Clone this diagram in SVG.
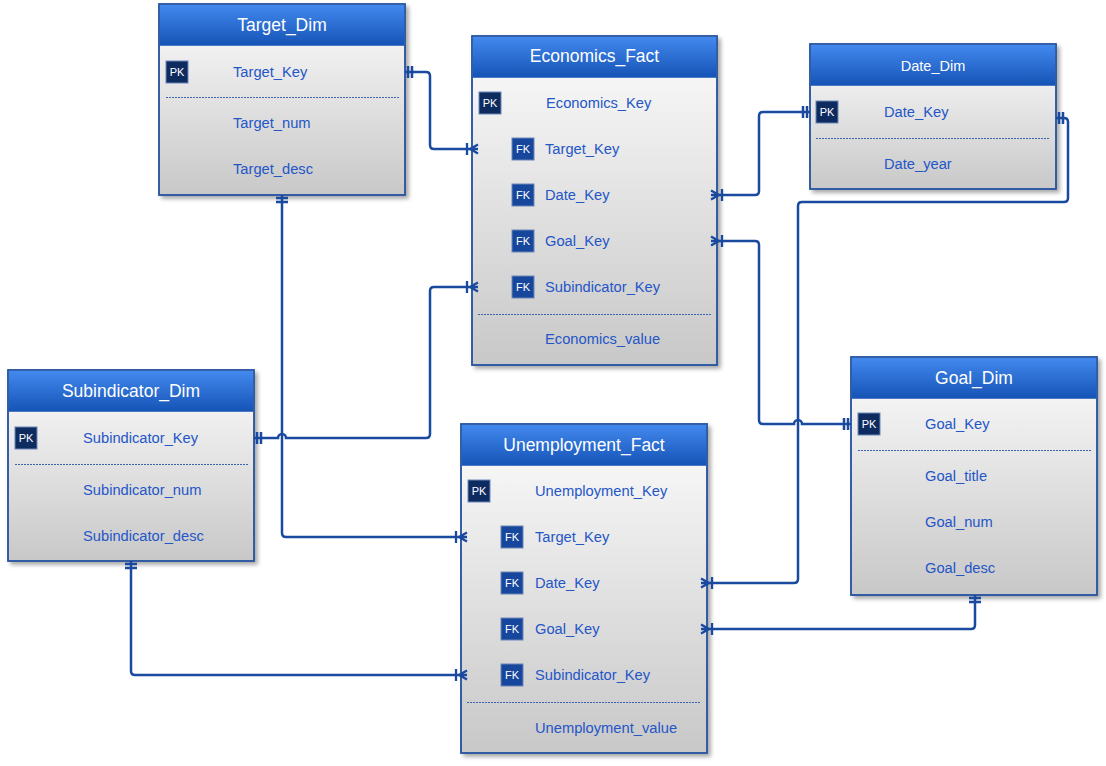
<svg xmlns="http://www.w3.org/2000/svg" width="1106" height="766" viewBox="0 0 1106 766">
<defs>
<linearGradient id="hdr" x1="0" y1="0" x2="0" y2="1"><stop offset="0" stop-color="#4389ee"/><stop offset="1" stop-color="#1553b6"/></linearGradient>
<linearGradient id="body" x1="0" y1="0" x2="0" y2="1"><stop offset="0" stop-color="#fcfcfc"/><stop offset="1" stop-color="#c8c8c8"/></linearGradient>
<filter id="sh" x="-10%" y="-10%" width="130%" height="130%"><feDropShadow dx="3" dy="3" stdDeviation="2" flood-color="#000" flood-opacity="0.35"/></filter>
<marker id="one" markerUnits="userSpaceOnUse" markerWidth="20" markerHeight="20" viewBox="-10 -10 20 20" refX="0" refY="0" orient="auto-start-reverse">
<path d="M-7,-6V6M-3,-6V6" stroke="#1a4aa0" stroke-width="2.5" fill="none"/>
</marker>
<marker id="many" markerUnits="userSpaceOnUse" markerWidth="24" markerHeight="20" viewBox="-12 -10 24 20" refX="0" refY="0" orient="auto-start-reverse">
<path d="M-5,-6V6M-2,0L6,-4.5M-2,0L6,4.5M-2,0H6" stroke="#1a4aa0" stroke-width="2.3" fill="none"/>
</marker>
</defs>
<style>
.box{fill:url(#body);stroke:#2a56a0;stroke-width:1.5}
.hd{fill:url(#hdr)}
.ttl{font-family:"Liberation Sans",Arial,sans-serif;font-size:17.5px;fill:#fff;text-anchor:middle}
.fld{font-family:"Liberation Sans",Arial,sans-serif;font-size:14.7px;fill:#2456c8}
.pk{fill:#0e2b60;stroke:#6a86b8;stroke-width:1}
.fk{fill:#17479c;stroke:#6a86b8;stroke-width:1}
.kt{font-family:"Liberation Sans",Arial,sans-serif;font-size:11px;fill:#fff;text-anchor:middle}
.dsh{stroke:#3a64b0;stroke-width:1;stroke-dasharray:2,1}
.cn{fill:none;stroke:#1a4aa0;stroke-width:2.5}
</style>

<g id="Target_Dim">
<rect class="box" x="159" y="4" width="246" height="191" filter="url(#sh)"/>
<rect class="hd" x="159.75" y="4.75" width="244.5" height="41"/>
<rect x="159" y="4" width="246" height="191" fill="none" stroke="#2a56a0" stroke-width="1.5"/>
<text class="ttl" x="282" y="31">Target_Dim</text>
<rect class="pk" x="166" y="61" width="22" height="22"/><text class="kt" x="177" y="76">PK</text>
<text class="fld" x="233" y="77">Target_Key</text>
<line class="dsh" x1="166" y1="97.5" x2="399" y2="97.5"/>
<text class="fld" x="233" y="128">Target_num</text>
<text class="fld" x="233" y="174">Target_desc</text>
</g>

<g id="Economics_Fact">
<rect class="box" x="472" y="36" width="245" height="329" filter="url(#sh)"/>
<rect class="hd" x="472.75" y="36.75" width="243.5" height="41"/>
<rect x="472" y="36" width="245" height="329" fill="none" stroke="#2a56a0" stroke-width="1.5"/>
<text class="ttl" x="594.5" y="62">Economics_Fact</text>
<rect class="pk" x="479" y="92" width="22" height="22"/><text class="kt" x="490" y="107">PK</text>
<text class="fld" x="546" y="108">Economics_Key</text>
<rect class="fk" x="512" y="138" width="22" height="22"/><text class="kt" x="523" y="153">FK</text>
<text class="fld" x="545" y="154">Target_Key</text>
<rect class="fk" x="512" y="184" width="22" height="22"/><text class="kt" x="523" y="199">FK</text>
<text class="fld" x="545" y="200">Date_Key</text>
<rect class="fk" x="512" y="230" width="22" height="22"/><text class="kt" x="523" y="245">FK</text>
<text class="fld" x="545" y="246">Goal_Key</text>
<rect class="fk" x="512" y="276" width="22" height="22"/><text class="kt" x="523" y="291">FK</text>
<text class="fld" x="545" y="292">Subindicator_Key</text>
<line class="dsh" x1="478" y1="314.5" x2="711" y2="314.5"/>
<text class="fld" x="545" y="344">Economics_value</text>
</g>

<g id="Date_Dim">
<rect class="box" x="810" y="44" width="246" height="145" filter="url(#sh)"/>
<rect class="hd" x="810.75" y="44.75" width="244.5" height="41"/>
<rect x="810" y="44" width="246" height="145" fill="none" stroke="#2a56a0" stroke-width="1.5"/>
<text class="ttl" x="933" y="71" style="font-size:14.5px">Date_Dim</text>
<rect class="pk" x="816" y="101" width="22" height="22"/><text class="kt" x="827" y="116">PK</text>
<text class="fld" x="884" y="117">Date_Key</text>
<line class="dsh" x1="816" y1="138.5" x2="1050" y2="138.5"/>
<text class="fld" x="884" y="169">Date_year</text>
</g>

<g id="Subindicator_Dim">
<rect class="box" x="8" y="370" width="246" height="191" filter="url(#sh)"/>
<rect class="hd" x="8.75" y="370.75" width="244.5" height="41"/>
<rect x="8" y="370" width="246" height="191" fill="none" stroke="#2a56a0" stroke-width="1.5"/>
<text class="ttl" x="131" y="397">Subindicator_Dim</text>
<rect class="pk" x="15" y="427" width="22" height="22"/><text class="kt" x="26" y="442">PK</text>
<text class="fld" x="83" y="443">Subindicator_Key</text>
<line class="dsh" x1="15" y1="464.5" x2="248" y2="464.5"/>
<text class="fld" x="83" y="495">Subindicator_num</text>
<text class="fld" x="83" y="541">Subindicator_desc</text>
</g>

<g id="Unemployment_Fact">
<rect class="box" x="461" y="424" width="246" height="329" filter="url(#sh)"/>
<rect class="hd" x="461.75" y="424.75" width="244.5" height="41"/>
<rect x="461" y="424" width="246" height="329" fill="none" stroke="#2a56a0" stroke-width="1.5"/>
<text class="ttl" x="584" y="451">Unemployment_Fact</text>
<rect class="pk" x="468" y="480" width="22" height="22"/><text class="kt" x="479" y="495">PK</text>
<text class="fld" x="535" y="496">Unemployment_Key</text>
<rect class="fk" x="501" y="526" width="22" height="22"/><text class="kt" x="512" y="541">FK</text>
<text class="fld" x="535" y="542">Target_Key</text>
<rect class="fk" x="501" y="572" width="22" height="22"/><text class="kt" x="512" y="587">FK</text>
<text class="fld" x="535" y="588">Date_Key</text>
<rect class="fk" x="501" y="618" width="22" height="22"/><text class="kt" x="512" y="633">FK</text>
<text class="fld" x="535" y="634">Goal_Key</text>
<rect class="fk" x="501" y="664" width="22" height="22"/><text class="kt" x="512" y="679">FK</text>
<text class="fld" x="535" y="680">Subindicator_Key</text>
<line class="dsh" x1="467" y1="702.5" x2="701" y2="702.5"/>
<text class="fld" x="535" y="733">Unemployment_value</text>
</g>

<g id="Goal_Dim">
<rect class="box" x="851" y="357" width="246" height="238" filter="url(#sh)"/>
<rect class="hd" x="851.75" y="357.75" width="244.5" height="41"/>
<rect x="851" y="357" width="246" height="238" fill="none" stroke="#2a56a0" stroke-width="1.5"/>
<text class="ttl" x="974" y="384">Goal_Dim</text>
<rect class="pk" x="858" y="413" width="22" height="22"/><text class="kt" x="869" y="428">PK</text>
<text class="fld" x="925" y="429">Goal_Key</text>
<line class="dsh" x1="858" y1="450.5" x2="1091" y2="450.5"/>
<text class="fld" x="925" y="481">Goal_title</text>
<text class="fld" x="925" y="527">Goal_num</text>
<text class="fld" x="925" y="573">Goal_desc</text>
</g>

<g id="connectors">
<path class="cn" d="M405,72 H426 Q430,72 430,76 V145 Q430,149 434,149 H472" marker-start="url(#one)" marker-end="url(#many)"/>
<path class="cn" d="M810,112 H763 Q759,112 759,116 V191 Q759,195 755,195 H717" marker-start="url(#one)" marker-end="url(#many)"/>
<path class="cn" d="M851,424 H802 A4,4 0 0 0 794,424 H763 Q759,424 759,420 V245 Q759,241 755,241 H717" marker-start="url(#one)" marker-end="url(#many)"/>
<path class="cn" d="M254,438 H278 A4,4 0 0 1 286,438 H426 Q430,438 430,434 V291 Q430,287 434,287 H472" marker-start="url(#one)" marker-end="url(#many)"/>
<path class="cn" d="M282,195 V533 Q282,537 286,537 H461" marker-start="url(#one)" marker-end="url(#many)"/>
<path class="cn" d="M1056,118 H1064 Q1068,118 1068,122 V198 Q1068,202 1064,202 H802 Q798,202 798,206 V579 Q798,583 794,583 H707" marker-start="url(#one)" marker-end="url(#many)"/>
<path class="cn" d="M975,595 V625 Q975,629 971,629 H707" marker-start="url(#one)" marker-end="url(#many)"/>
<path class="cn" d="M131,561 V671 Q131,675 135,675 H461" marker-start="url(#one)" marker-end="url(#many)"/>
</g>
</svg>
